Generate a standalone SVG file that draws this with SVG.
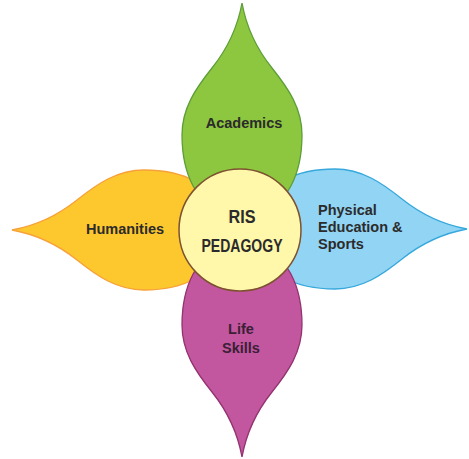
<svg xmlns="http://www.w3.org/2000/svg" width="469" height="459" viewBox="0 0 469 459">
  <defs>
    <path id="petal" d="M 0,-227 C 4,-205 14,-182 30,-162 C 46,-142 60,-122 60,-95 C 60,-60 50,-25 0,0 C -50,-25 -60,-60 -60,-95 C -60,-122 -46,-142 -30,-162 C -14,-182 -4,-205 0,-227 Z"/>
    <style>
      .lbl { font-family: "Liberation Sans", Arial, sans-serif; font-weight: bold; font-size: 14.5px; fill: #2b2b2b; }
      .ctr { font-family: "Liberation Sans", Arial, sans-serif; font-weight: bold; font-size: 18px; fill: #2b2b2b; }
      .pw { stroke-width: 1.3; }
    </style>
  </defs>
  <rect width="469" height="459" fill="#ffffff"/>
  <g id="connectors"/>
  <g id="humanities">
    <use href="#petal" transform="translate(239,230) rotate(-90)" fill="#fdc82e" stroke="#f7a13a" class="pw"/>
    <text class="lbl" x="125" y="234" text-anchor="middle">Humanities</text>
  </g>
  <g id="physical-education-sports">
    <use href="#petal" transform="translate(240,229) rotate(90)" fill="#92d4f4" stroke="#36a8dc" class="pw"/>
    <text class="lbl" x="318" y="215">Physical</text>
    <text class="lbl" x="318" y="232">Education &amp;</text>
    <text class="lbl" x="318" y="249">Sports</text>
  </g>
  <g id="academics">
    <use href="#petal" transform="translate(242,230)" fill="#8dc63f" stroke="#5e9e3a" class="pw"/>
    <text class="lbl" x="244" y="128" text-anchor="middle">Academics</text>
  </g>
  <g id="life-skills">
    <use href="#petal" transform="translate(242,230) rotate(180)" fill="#c2569f" stroke="#93336f" class="pw"/>
    <text class="lbl" x="241" y="334" text-anchor="middle" fill="#3a1f35" style="fill:#3a1f35">Life</text>
    <text class="lbl" x="241" y="353" text-anchor="middle" style="fill:#3a1f35">Skills</text>
  </g>
  <g id="ris-pedagogy">
    <circle cx="240" cy="230" r="61" fill="#fff7aa" stroke="#7d5230" stroke-width="1.5"/>
    <text class="ctr" x="242" y="223" text-anchor="middle" textLength="27" lengthAdjust="spacingAndGlyphs">RIS</text>
    <text class="ctr" x="242" y="252" text-anchor="middle" textLength="81" lengthAdjust="spacingAndGlyphs">PEDAGOGY</text>
  </g>
</svg>
